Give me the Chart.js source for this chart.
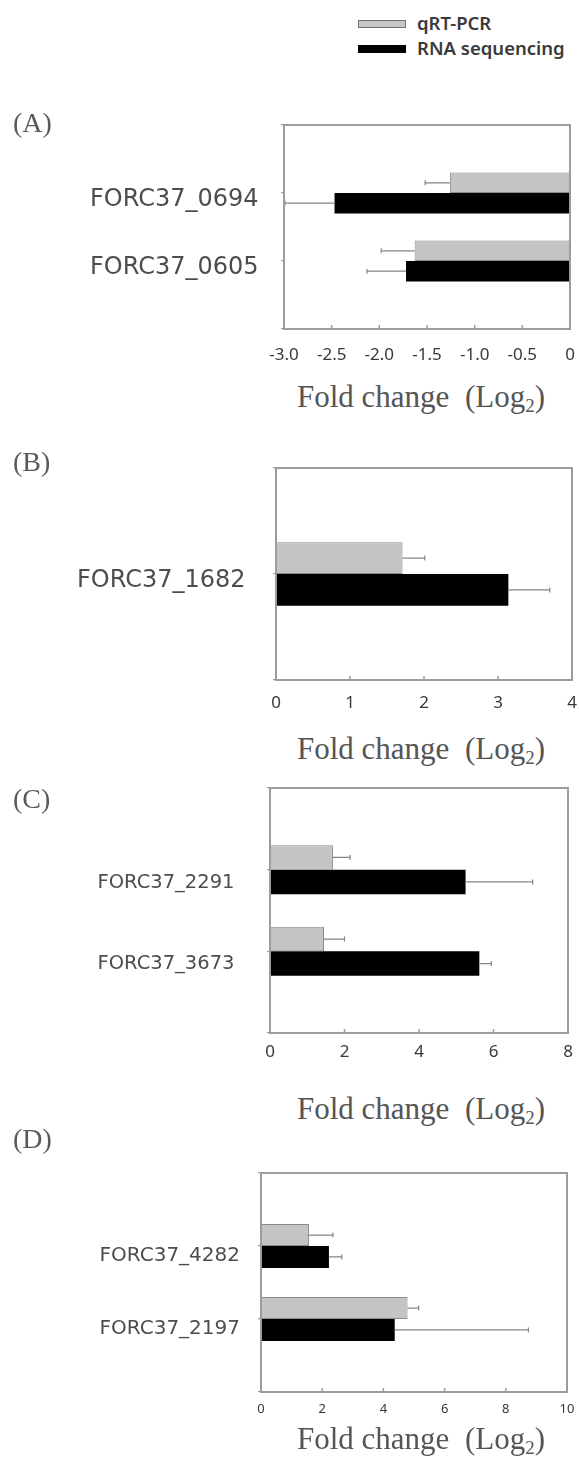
<!DOCTYPE html>
<html>
<head>
<meta charset="utf-8">
<script src="https://cdn.jsdelivr.net/npm/chart.js@4.4.1/dist/chart.umd.min.js"></script>
<style>
  html, body { margin: 0; padding: 0; background: #fff; }
  body { width: 579px; height: 1458px; position: relative; overflow: hidden; }
  canvas.cv { position: absolute; left: 0; }
  .letter { position: absolute; left: 13px; font-family: 'Liberation Serif', 'Times New Roman', serif; font-size: 28px; line-height: 28px; color: #5a5a5a; z-index: 2; }
  .title { position: absolute; left: 297px; font-family: 'Liberation Serif', 'Times New Roman', serif; font-size: 31px; line-height: 31px; color: #555; white-space: pre; z-index: 2; }
  .title sub { font-size: 19px; line-height: 0; vertical-align: -5px; }
  .sw { position: absolute; left: 358px; width: 48px; height: 8px; box-sizing: border-box; }
  .lt { position: absolute; left: 417px; font-family: 'Noto Sans', 'Open Sans', sans-serif; font-weight: 600; font-size: 18.5px; line-height: 18px; color: #3a3a3a; white-space: nowrap; }
</style>
</head>
<body>
<canvas class="cv" id="cA" width="579" height="264" style="top:105px"></canvas>
<canvas class="cv" id="cB" width="579" height="272" style="top:448px"></canvas>
<canvas class="cv" id="cC" width="579" height="305" style="top:768px"></canvas>
<canvas class="cv" id="cD" width="579" height="279" style="top:1153px"></canvas>

<div class="sw" style="top:20px;background:#c8c8c8;border:1.5px solid #707070;"></div>
<div class="sw" style="top:45px;background:#000;"></div>
<div class="lt" id="lg0" style="top:14px"></div>
<div class="lt" id="lg1" style="top:39px"></div>

<div class="letter" style="top:109px">(A)</div>
<div class="letter" style="top:448px">(B)</div>
<div class="letter" style="top:785px">(C)</div>
<div class="letter" style="top:1125px">(D)</div>

<div class="title" style="top:381px">Fold change  (Log<sub>2</sub>)</div>
<div class="title" style="top:733px">Fold change  (Log<sub>2</sub>)</div>
<div class="title" style="top:1093px">Fold change  (Log<sub>2</sub>)</div>
<div class="title" style="top:1423px">Fold change  (Log<sub>2</sub>)</div>

<script>
// ---------- data ----------
const seriesNames = ['qRT-PCR', 'RNA sequencing'];

// Panel A
const catsA = ['FORC37_0694', 'FORC37_0605'];
const qrtA = [-1.26, -1.63];
const qrtErrA = [0.26, 0.35];
const rnaA = [-2.47, -1.72];
const rnaErrA = [0.52, 0.41];
const ticksA = ['-3.0', '-2.5', '-2.0', '-1.5', '-1.0', '-0.5', '0'];

// Panel B
const catsB = ['FORC37_1682'];
const qrtB = [1.71];
const qrtErrB = [0.30];
const rnaB = [3.14];
const rnaErrB = [0.56];
const ticksB = ['0', '1', '2', '3', '4'];

// Panel C
const catsC = ['FORC37_2291', 'FORC37_3673'];
const qrtC = [1.69, 1.45];
const qrtErrC = [0.46, 0.55];
const rnaC = [5.25, 5.62];
const rnaErrC = [1.80, 0.32];
const ticksC = ['0', '2', '4', '6', '8'];

// Panel D
const catsD = ['FORC37_4282', 'FORC37_2197'];
const qrtD = [1.57, 4.79];
const qrtErrD = [0.78, 0.36];
const rnaD = [2.22, 4.37];
const rnaErrD = [0.42, 4.37];
const ticksD = ['0', '2', '4', '6', '8', '10'];

document.getElementById('lg0').textContent = seriesNames[0];
document.getElementById('lg1').textContent = seriesNames[1];

// ---------- decorations: error bars, frame, inner ticks ----------
const decor = {
  id: 'decor',
  afterDatasetsDraw(chart) {
    const ctx = chart.ctx, ca = chart.chartArea, x = chart.scales.x;
    chart.data.datasets.forEach((ds, di) => {
      const meta = chart.getDatasetMeta(di);
      meta.data.forEach((bar, i) => {
        const v = ds.data[i], e = ds.errors[i];
        if (v == null || e == null) return;
        const end = v + Math.sign(v) * e;
        const px = x.getPixelForValue(end);
        const y = bar.y;
        ctx.save();
        ctx.strokeStyle = '#858585';
        ctx.lineWidth = 1.2;
        ctx.beginPath();
        ctx.moveTo(bar.x, y);
        ctx.lineTo(px, y);
        ctx.moveTo(px, y - 2.5);
        ctx.lineTo(px, y + 2.5);
        ctx.stroke();
        ctx.restore();
      });
    });
    ctx.save();
    ctx.strokeStyle = '#9c9c9c';
    ctx.lineWidth = 2;
    ctx.strokeRect(ca.left, ca.top, ca.right - ca.left, ca.bottom - ca.top);
    ctx.lineWidth = 1.5;
    x.ticks.forEach((t, i) => {
      const p = x.getPixelForTick(i);
      ctx.beginPath();
      ctx.moveTo(p, ca.bottom);
      ctx.lineTo(p, ca.bottom - 4);
      ctx.stroke();
    });
    ctx.restore();
  }
};

function makePanel(id, cats, qrt, qrtErr, rna, rnaErr, xMin, xMax, step, tickLabels, o) {
  const pad = v => [null, ...v, null];
  new Chart(document.getElementById(id), {
    type: 'bar',
    data: {
      labels: ['', ...cats, ''],
      datasets: [
        { label: seriesNames[0], data: pad(qrt), errors: pad(qrtErr),
          backgroundColor: '#c4c4c4', borderColor: '#8a8a8a', borderWidth: 1,
          categoryPercentage: 0.6, barPercentage: 1.0 },
        { label: seriesNames[1], data: pad(rna), errors: pad(rnaErr),
          backgroundColor: '#000000', borderColor: '#000000', borderWidth: 0,
          categoryPercentage: 0.6, barPercentage: 1.0 }
      ]
    },
    options: {
      indexAxis: 'y',
      responsive: false,
      animation: false,
      devicePixelRatio: 1,
      layout: { padding: { top: 20, right: 579 - o.boxRight, left: 0, bottom: 0 } },
      plugins: { legend: { display: false }, tooltip: { enabled: false } },
      scales: {
        x: {
          type: 'linear', min: xMin, max: xMax,
          grid: { display: false, drawTicks: false },
          border: { display: false },
          ticks: {
            stepSize: step,
            autoSkip: false,
            maxRotation: 0,
            padding: o.tickPad,
            color: '#383838',
            font: { family: "'Noto Sans', sans-serif", size: o.tickSize, lineHeight: 1.2 },
            callback: (v, i) => tickLabels[i]
          },
          afterFit: s => { s.height = 40; s.paddingLeft = 0; s.paddingRight = 0; }
        },
        y: {
          type: 'category',
          offset: false,
          grid: { display: true, offset: false, drawOnChartArea: false, drawTicks: true, tickLength: 3, color: '#999', lineWidth: 1.2 },
          border: { display: false },
          ticks: {
            autoSkip: false,
            padding: o.labelPad,
            labelOffset: o.labelOffset,
            color: '#4d4d4d',
            font: { family: "'DejaVu Sans', sans-serif", size: o.labelSize }
          },
          afterFit: s => { s.width = o.boxLeft; s.paddingTop = 0; s.paddingBottom = 0; }
        }
      }
    },
    plugins: [decor]
  });
}

makePanel('cA', catsA, qrtA, qrtErrA, rnaA, rnaErrA, -3, 0, 0.5, ticksA,
  { boxLeft: 284, boxRight: 570, labelSize: 24, labelPad: 22.5, labelOffset: 7, tickSize: 17, tickPad: 16 });
makePanel('cB', catsB, qrtB, qrtErrB, rnaB, rnaErrB, 0, 4, 1, ticksB,
  { boxLeft: 276, boxRight: 572, labelSize: 24, labelPad: 27.5, labelOffset: 7, tickSize: 17, tickPad: 13 });
makePanel('cC', catsC, qrtC, qrtErrC, rnaC, rnaErrC, 0, 8, 2, ticksC,
  { boxLeft: 270, boxRight: 568, labelSize: 19.5, labelPad: 32.5, labelOffset: 13, tickSize: 17, tickPad: 8.5 });
makePanel('cD', catsD, qrtD, qrtErrD, rnaD, rnaErrD, 0, 10, 2, ticksD,
  { boxLeft: 261, boxRight: 567, labelSize: 20, labelPad: 18, labelOffset: 10, tickSize: 13, tickPad: 9 });
</script>
</body>
</html>
